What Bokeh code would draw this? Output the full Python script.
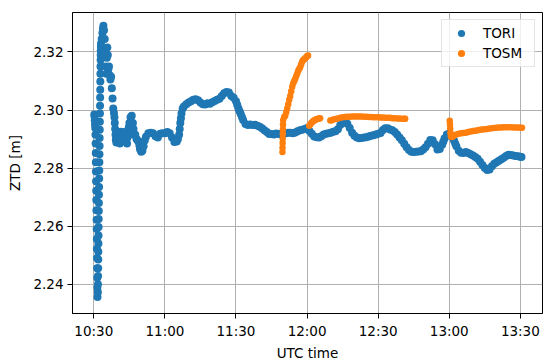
from bokeh.plotting import figure
from bokeh.models import ColumnDataSource, Range1d
from bokeh.embed import file_html
from bokeh.resources import INLINE

# ---- data (time in minutes after 10:30 UTC, ZTD in metres) ----
T0 = 630  # 10:30 as minutes of the day

tori_t = [
    0.2, 0.3, 0.4, 0.5, 0.6,
    0.70, 0.75, 0.80, 0.85, 0.90, 0.95, 1.00, 1.05, 1.10, 1.15, 1.20, 1.25, 1.30, 1.35, 1.40, 1.45, 1.50, 1.55,
    1.70, 1.74, 1.78, 1.82, 1.86, 1.90, 1.94, 1.98, 2.02, 2.06, 2.10, 2.14, 2.18, 2.22, 2.26, 2.30, 2.34,
    2.38, 2.42, 2.46, 2.50, 2.54, 2.58, 2.62, 2.66, 2.70, 2.74, 2.78, 2.82, 2.86, 2.90, 2.94, 2.98, 3.02,
    3.3, 3.6, 3.85, 4.05, 4.3, 4.6, 4.9, 5.1, 5.3, 5.5, 5.7, 5.9, 6.1,
    6.4, 6.7, 7.0, 7.3, 7.6, 7.9, 8.2, 8.5, 8.7, 8.85, 9.0, 9.15, 9.3, 9.5, 9.75, 10,
    10.5, 11, 11.25, 11.5, 12, 12.5, 13, 13.5, 14, 14.25, 14.5, 14.75, 15, 15.5, 16, 16.5, 16.75,
    17, 17.5, 18, 18.5, 19, 19.25, 19.5, 20, 20.5, 21, 21.5, 22,
    23, 24, 25, 26, 27, 28, 29, 30, 31, 32, 33, 34, 35, 35.5, 36, 36.25, 36.5, 36.75, 37, 37.5,
    38, 39, 40, 41, 42, 43, 44, 45, 46, 47, 48, 49, 50, 51, 52, 53, 54, 55, 56, 57, 58, 59, 60,
    60.5, 61, 61.5, 62, 62.5, 63, 64, 65, 66, 67, 68, 69, 70, 71, 72, 73, 74, 75, 76, 77, 78, 79,
    80, 81, 82, 83, 84, 85, 86, 87, 88, 89, 90, 91, 92, 93, 94, 95, 96, 97, 98, 99,
    100, 101, 102, 103, 104, 105, 106, 107, 108, 109, 110, 111, 112, 113, 114, 115, 116, 117, 118, 119,
    120, 121, 122, 123, 124, 125, 126, 127, 128, 129, 130, 131, 132, 133, 134, 135, 136, 137, 138, 139,
    140, 141, 142, 143, 144, 145, 146, 147, 147.5, 148, 149, 150, 151, 152, 152.5, 153, 154, 155, 156,
    157, 158, 159, 160, 161, 162, 163, 164, 165, 166, 167, 168, 169, 170, 171, 172, 173, 174, 175,
    176, 177, 178, 179, 180, 180.5,
]
tori_ztd = [
    2.2985, 2.2978, 2.2965, 2.2950, 2.2938,
    2.2915, 2.2885, 2.2852, 2.2820, 2.2788, 2.2755, 2.2722, 2.2690, 2.2655, 2.2622, 2.2590, 2.2556, 2.2522, 2.2490, 2.2455, 2.2422, 2.2388, 2.2356,
    2.2372, 2.2400, 2.2428, 2.2455, 2.2485, 2.2512, 2.2540, 2.2568, 2.2597, 2.2625, 2.2652, 2.2680, 2.2708, 2.2735, 2.2764, 2.2792, 2.2820,
    2.2848, 2.2876, 2.2904, 2.2932, 2.2960, 2.2988, 2.3015, 2.3043, 2.3070, 2.3098, 2.3125, 2.3150, 2.3172, 2.3190, 2.3205, 2.3218, 2.3228,
    2.3245, 2.3265, 2.3280, 2.3290, 2.3275, 2.3245, 2.3200, 2.3150, 2.3125, 2.3180, 2.3215, 2.3190, 2.3140,
    2.3150, 2.3120, 2.3105, 2.3115, 2.3075, 2.3040, 2.3005, 2.2990, 2.2975, 2.2955, 2.2935, 2.2915, 2.2898, 2.2888, 2.2905, 2.2925,
    2.2905, 2.2885, 2.2905, 2.2925, 2.2895, 2.2915, 2.2900, 2.2925, 2.2885, 2.2905, 2.2925, 2.2940, 2.2955, 2.2975, 2.2980, 2.2955, 2.2935,
    2.2915, 2.2915, 2.2900, 2.2895, 2.2890, 2.2878, 2.2865, 2.2856, 2.2860, 2.2875, 2.2895, 2.2908,
    2.2920, 2.2922, 2.2920, 2.2910, 2.2905, 2.2918, 2.2920, 2.2920, 2.2924, 2.2920, 2.2905, 2.2890, 2.2892, 2.2900, 2.2915, 2.2935, 2.2955, 2.2972, 2.2988, 2.3005,
    2.3012, 2.3020, 2.3026, 2.3030, 2.3035, 2.3037, 2.3034, 2.3026, 2.3020, 2.3019, 2.3023, 2.3022, 2.3027, 2.3031, 2.3035, 2.3039, 2.3048, 2.3058, 2.3062, 2.3060, 2.3048, 2.3042, 2.3030,
    2.3018, 2.3006, 2.2996, 2.2986, 2.2976, 2.2966, 2.2952, 2.2948, 2.2950, 2.2948, 2.2949, 2.2946, 2.2942, 2.2937, 2.2930, 2.2924, 2.2917, 2.2917, 2.2916, 2.2919, 2.2917, 2.2916,
    2.2919, 2.2920, 2.2922, 2.2922, 2.2920, 2.2923, 2.2927, 2.2930, 2.2932, 2.2935, 2.2938, 2.2928, 2.2918, 2.2909, 2.2906, 2.2905, 2.2910, 2.2916, 2.2918, 2.2920,
    2.2922, 2.2925, 2.2927, 2.2934, 2.2948, 2.2956, 2.2958, 2.2953, 2.2938, 2.2922, 2.2911, 2.2905, 2.2903, 2.2904, 2.2905, 2.2906, 2.2909, 2.2911, 2.2913, 2.2916,
    2.2918, 2.2921, 2.2931, 2.2937, 2.2937, 2.2933, 2.2930, 2.2924, 2.2916, 2.2905, 2.2896, 2.2884, 2.2872, 2.2862, 2.2856, 2.2855, 2.2856, 2.2857, 2.2858, 2.2864,
    2.2872, 2.2884, 2.2897, 2.2896, 2.2882, 2.2864, 2.2866, 2.2880, 2.2891, 2.2902, 2.2916, 2.2919, 2.2908, 2.2895, 2.2885, 2.2875, 2.2860, 2.2853, 2.2852,
    2.2855, 2.2852, 2.2848, 2.2843, 2.2838, 2.2832, 2.2822, 2.2811, 2.2800, 2.2793, 2.2795, 2.2806, 2.2815, 2.2820, 2.2825, 2.2830, 2.2836, 2.2842, 2.2846,
    2.2845, 2.2843, 2.2842, 2.2841, 2.2839, 2.2838,
]

tosm_t = [
    79.60, 79.64, 79.68, 79.72, 79.76, 79.80, 79.84, 79.90,
    80.35, 80.78, 81.2, 81.62, 82.04, 82.47, 82.89, 83.31, 83.73, 84.15, 84.58, 85.0, 85.42, 85.84,
    86.26, 86.69, 87.11, 87.53, 87.95, 88.37, 88.8, 89.22, 89.64, 90.06, 90.4,
    90.9, 91.3, 91.75, 92.2, 92.6, 93.0, 93.4, 93.85, 94.3, 94.7, 95.1, 95.5,
    99.8, 100.5, 101, 102, 103, 104, 105, 106, 107, 108, 109, 110, 111, 112, 113, 114, 115, 116, 117,
    118, 119, 120, 121, 122, 123, 124, 125, 126, 127, 128, 129, 130, 131, 131.4,
    150.2, 150.3, 150.4, 150.5, 150.65, 151, 151.5, 152, 153, 154, 155, 156, 157, 158, 159, 160,
    161, 162, 163, 164, 165, 166, 167, 168, 169, 170, 171, 172, 173, 174, 175, 176, 177, 178, 179, 180, 180.7,
]
tosm_ztd = [
    2.2855, 2.2870, 2.2886, 2.2902, 2.2918, 2.2934, 2.2950, 2.2966,
    2.2976, 2.2980, 2.2992, 2.3005, 2.3020, 2.3035, 2.3048, 2.3065, 2.3080, 2.3092, 2.3100, 2.3108, 2.3117, 2.3126,
    2.3135, 2.3142, 2.3148, 2.3158, 2.3167, 2.3172, 2.3175, 2.3178, 2.3182, 2.3186, 2.3188,
    2.2946, 2.2950, 2.2955, 2.2959, 2.2962, 2.2964, 2.2966, 2.2968, 2.2969, 2.2970, 2.2971, 2.2972,
    2.2964, 2.2965, 2.2967, 2.2969, 2.2971, 2.2973, 2.2975, 2.2976, 2.2977, 2.2977, 2.2978, 2.2978, 2.2978, 2.2978, 2.2978, 2.2977, 2.2977, 2.2976, 2.2976,
    2.2975, 2.2975, 2.2975, 2.2974, 2.2974, 2.2973, 2.2973, 2.2973, 2.2972, 2.2972, 2.2971, 2.2971, 2.2970, 2.2970, 2.2970,
    2.2963, 2.2950, 2.2936, 2.2922, 2.2910, 2.2907, 2.2909, 2.2912, 2.2916, 2.2918, 2.2920, 2.2921, 2.2922, 2.2924, 2.2926, 2.2928,
    2.2929, 2.2930, 2.2932, 2.2933, 2.2934, 2.2935, 2.2936, 2.2937, 2.2938, 2.2939, 2.2940, 2.2940, 2.2941, 2.2941, 2.2941, 2.2941, 2.2940, 2.2940, 2.2940, 2.2939, 2.2939,
]

x_ticks = [630, 660, 690, 720, 750, 780, 810]
x_labels = ["10:30", "11:00", "11:30", "12:00", "12:30", "13:00", "13:30"]
y_ticks = [2.24, 2.26, 2.28, 2.30, 2.32]
y_labels = ["2.24", "2.26", "2.28", "2.30", "2.32"]

if len(tori_t) != len(tori_ztd) or len(tosm_t) != len(tosm_ztd):
    raise ValueError("length mismatch %d %d %d %d" % (len(tori_t), len(tori_ztd), len(tosm_t), len(tosm_ztd)))

FONT = "DejaVu Sans"
FS = "13.5px"

p = figure(width=550, height=363, output_backend="svg", toolbar_location=None,
           x_range=Range1d(621.0, 819.35), y_range=Range1d(2.2299, 2.3336),
           min_border_left=72, min_border_right=8, min_border_top=12, min_border_bottom=47,
           background_fill_color="white", border_fill_color="white")

src_tori = ColumnDataSource(dict(x=[T0 + t for t in tori_t], y=tori_ztd))
src_tosm = ColumnDataSource(dict(x=[T0 + t for t in tosm_t], y=tosm_ztd))

p.scatter("x", "y", source=src_tori, size=8, color="#1f77b4", line_color=None, legend_label="TORI")
p.scatter("x", "y", source=src_tosm, size=6.5, color="#ff7f0e", line_color=None, legend_label="TOSM")

p.xaxis.ticker = x_ticks
p.xaxis.major_label_overrides = dict(zip(x_ticks, x_labels))
p.yaxis.ticker = y_ticks
p.yaxis.major_label_overrides = dict(zip(y_ticks, y_labels))
p.xaxis.axis_label = "UTC time"
p.yaxis.axis_label = "ZTD [m]"

for ax in (p.xaxis[0], p.yaxis[0]):
    ax.major_tick_out = 5
    ax.major_tick_in = 0
    ax.minor_tick_line_color = None
    ax.major_tick_line_color = "black"
    ax.axis_line_color = "black"
    ax.major_label_text_font = FONT
    ax.major_label_text_font_size = FS
    ax.major_label_text_color = "black"
    ax.axis_label_text_font = FONT
    ax.axis_label_text_font_size = FS
    ax.axis_label_text_font_style = "normal"
    ax.axis_label_text_color = "black"

p.xaxis.major_label_standoff = 4
p.xaxis.axis_label_standoff = 3
p.yaxis.major_label_standoff = 4
p.yaxis.axis_label_standoff = 7

p.grid.grid_line_color = "#b0b0b0"
p.grid.grid_line_width = 1
p.outline_line_color = "black"
p.outline_line_alpha = 1
p.outline_line_width = 1

lg = p.legend[0]
lg.location = "top_right"
lg.margin = 7
lg.padding = 4
lg.spacing = 2
lg.label_height = 18
lg.glyph_height = 18
lg.glyph_width = 30
lg.label_standoff = 7
lg.label_width = 47
lg.border_line_color = "#cccccc"
lg.border_line_width = 1
lg.background_fill_alpha = 0.8
lg.label_text_font = FONT
lg.label_text_font_size = FS
lg.label_text_color = "black"

open("out.html", "w").write(file_html(p, INLINE))
